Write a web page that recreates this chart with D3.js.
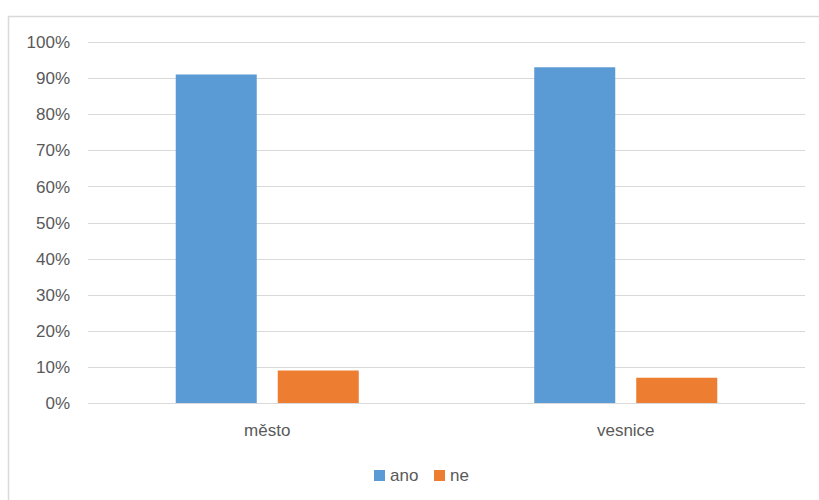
<!DOCTYPE html>
<html><head><meta charset="utf-8">
<script src="https://cdn.jsdelivr.net/npm/d3@7"></script>
<style>body{margin:0;background:#fff}svg{display:block}text{font-family:"Liberation Sans",Arial,sans-serif;fill:#595959}</style>
</head><body><svg id="c" width="819" height="500"></svg>
<script>
const categories = ["město", "vesnice"];
const seriesNames = ["ano", "ne"];
const ano = [0.91, 0.93];
const ne = [0.09, 0.07];
const yTicks = [0, 0.1, 0.2, 0.3, 0.4, 0.5, 0.6, 0.7, 0.8, 0.9, 1.0];
const colors = ["#5B9BD5", "#ED7D31"];

(function () {
const values = [ano, ne];
const svg = d3.select("#c");
svg.append("rect").attr("x", 8.5).attr("y", 16.5).attr("width", 830).attr("height", 500)
  .attr("fill", "#fff").attr("stroke", "#D9D9D9").attr("stroke-width", 1.5);

const pLeft = 88, pRight = 805, pTop = 42, pBottom = 403;
const y = d3.scaleLinear().domain([0, 1]).range([pBottom, pTop]);
const x0 = d3.scaleBand().domain(categories).range([pLeft, pRight]).padding(0);
const x1 = d3.scaleBand().domain(seriesNames).range([0, x0.bandwidth()])
  .paddingInner(21 / 102).paddingOuter(0.86);

svg.append("g").selectAll("line").data(yTicks).join("line")
  .attr("x1", pLeft).attr("x2", pRight)
  .attr("y1", d => Math.round(y(d)) + 0.5).attr("y2", d => Math.round(y(d)) + 0.5)
  .attr("stroke", "#D9D9D9").attr("stroke-width", 1);

svg.append("g").selectAll("text").data(yTicks).join("text")
  .attr("x", 70).attr("y", d => y(d)).attr("dy", "0.36em")
  .attr("text-anchor", "end").attr("font-size", 17)
  .text(d => d3.format(".0%")(d));

const g = svg.append("g");
categories.forEach((c, i) => {
  seriesNames.forEach((s, j) => {
    g.append("rect")
      .attr("x", x0(c) + x1(s)).attr("width", x1.bandwidth())
      .attr("y", y(values[j][i])).attr("height", y(0) - y(values[j][i]))
      .attr("fill", colors[j]);
  });
});

svg.append("g").selectAll("text").data(categories).join("text")
  .attr("x", d => x0(d) + x0.bandwidth() / 2).attr("y", 436)
  .attr("text-anchor", "middle").attr("font-size", 17).text(d => d);

const legX = [374, 434];
const leg = svg.append("g");
seriesNames.forEach((s, j) => {
  leg.append("rect").attr("x", legX[j]).attr("y", 470).attr("width", 11).attr("height", 11).attr("fill", colors[j]);
  leg.append("text").attr("x", legX[j] + 16).attr("y", 481).attr("font-size", 17).text(s);
});
})();
</script></body></html>
